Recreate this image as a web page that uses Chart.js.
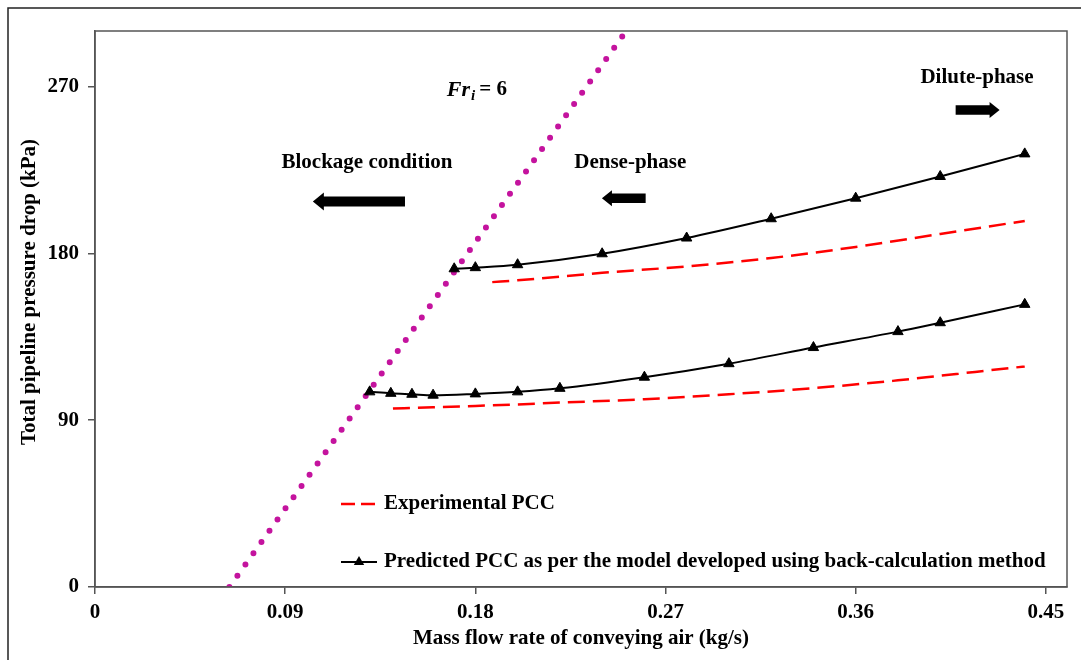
<!DOCTYPE html>
<html>
<head>
<meta charset="utf-8">
<script src="https://cdn.jsdelivr.net/npm/chart.js@4/dist/chart.umd.min.js"></script>
<style>
  html, body { margin: 0; padding: 0; background: #fff; }
  #wrap { width: 1081px; height: 660px; position: relative; }
</style>
</head>
<body>
<div id="wrap"><canvas id="c" width="1081" height="660"></canvas></div>
<script>
// Upper operating line
const upperPredX = [0.17, 0.18, 0.20, 0.24, 0.28, 0.32, 0.36, 0.40, 0.44];
const upperPredY = [171.7, 172.3, 173.9, 179.8, 188.3, 198.7, 209.8, 221.5, 233.7];
const upperExpX  = [0.188, 0.20, 0.24, 0.28, 0.32, 0.36, 0.40, 0.44];
const upperExpY  = [164.5, 165.5, 169.5, 173.0, 177.5, 183.5, 190.5, 197.5];

// Lower operating line
const lowerPredX = [0.13, 0.14, 0.15, 0.16, 0.18, 0.20, 0.22, 0.26, 0.30, 0.34, 0.38, 0.40, 0.44];
const lowerPredY = [105.3, 104.5, 104.0, 103.5, 104.2, 105.3, 107.2, 113.2, 120.5, 129.2, 137.8, 142.6, 152.5];
const lowerExpX  = [0.141, 0.16, 0.18, 0.20, 0.22, 0.26, 0.30, 0.34, 0.38, 0.40, 0.44];
const lowerExpY  = [96.3, 97.0, 97.7, 98.5, 99.5, 101.3, 104.0, 107.3, 111.5, 114.0, 119.0];

// Minimum-Froude-number boundary (Fr_i = 6)
const froudeX = [0.0636, 0.2514];
const froudeY = [0, 300];

// Axis ticks
const xTicks = [0, 0.09, 0.18, 0.27, 0.36, 0.45];
const yTicks = [0, 90, 180, 270];

// Region labels and arrows, in data units
const regionNotes = [
  { text: 'Blockage condition', x: 0.1287, y: 229.2 },
  { text: 'Dense-phase',        x: 0.2533, y: 229.0 },
  { text: 'Dilute-phase',       x: 0.4174, y: 275.0 }
];
const regionArrows = [
  { tail: 0.1467, head: 0.1031, y: 208.0 },
  { tail: 0.2606, head: 0.2399, y: 209.8 },
  { tail: 0.4073, head: 0.4281, y: 257.4 }
];
const froudeNote = { x: 0.1665, y: 268.2 };

const X_TITLE = 'Mass flow rate of conveying air (kg/s)';
const Y_TITLE = 'Total pipeline pressure drop (kPa)';

const FONT = 'Liberation Serif';
const RED = '#ff0000';
const MAGENTA = '#c4139e';
const AXIS = '#555555';

const pairs = (xs, ys) => xs.map((x, i) => ({ x, y: ys[i] }));

const expStyle = {
  borderColor: RED, borderWidth: 2.5, borderDash: [17, 8],
  pointRadius: 0, fill: false, cubicInterpolationMode: 'monotone'
};
const predStyle = {
  borderColor: '#000', backgroundColor: '#000', borderWidth: 2,
  pointStyle: 'triangle', pointRadius: 6, pointBackgroundColor: '#000',
  pointBorderColor: '#000', pointBorderWidth: 1,
  fill: false, cubicInterpolationMode: 'monotone'
};

const framePlugin = {
  id: 'frame',
  beforeDraw(chart) {
    const ctx = chart.ctx;
    ctx.save();
    ctx.fillStyle = '#fff';
    ctx.fillRect(0, 0, chart.width, chart.height);
    // outer chart border
    ctx.strokeStyle = '#222';
    ctx.lineWidth = 1.5;
    ctx.beginPath();
    ctx.moveTo(8, chart.height);
    ctx.lineTo(8, 8);
    ctx.lineTo(chart.width, 8);
    ctx.stroke();
    // vertical axis title
    ctx.fillStyle = '#000';
    ctx.font = `bold 21px "${FONT}"`;
    ctx.textAlign = 'center';
    ctx.textBaseline = 'middle';
    ctx.translate(30, 292);
    ctx.rotate(-Math.PI / 2);
    ctx.fillText(Y_TITLE, 0, 0);
    ctx.restore();
  },
  afterDatasetsDraw(chart) {
    const { ctx, chartArea: a } = chart;
    ctx.save();
    ctx.strokeStyle = AXIS;
    ctx.lineWidth = 1.5;
    ctx.strokeRect(a.left, a.top, a.right - a.left, a.bottom - a.top);
    ctx.restore();
  }
};

function drawArrow(ctx, x0, x1, y, shaft, headLen, headH) {
  const dir = Math.sign(x1 - x0);
  const base = x1 - dir * headLen;
  ctx.beginPath();
  ctx.moveTo(x0, y - shaft / 2);
  ctx.lineTo(base, y - shaft / 2);
  ctx.lineTo(base, y - headH / 2);
  ctx.lineTo(x1, y);
  ctx.lineTo(base, y + headH / 2);
  ctx.lineTo(base, y + shaft / 2);
  ctx.lineTo(x0, y + shaft / 2);
  ctx.closePath();
  ctx.fill();
}

const notesPlugin = {
  id: 'notes',
  afterDraw(chart) {
    const ctx = chart.ctx;
    const xs = chart.scales.x, ys = chart.scales.y;
    ctx.save();
    ctx.fillStyle = '#000';
    ctx.font = `bold 21px "${FONT}"`;
    ctx.textAlign = 'center';
    ctx.textBaseline = 'middle';
    regionNotes.forEach(n => ctx.fillText(n.text, xs.getPixelForValue(n.x), ys.getPixelForValue(n.y)));
    regionArrows.forEach((a, i) => {
      const small = i > 0;
      drawArrow(ctx, xs.getPixelForValue(a.tail), xs.getPixelForValue(a.head),
        ys.getPixelForValue(a.y), small ? 9.5 : 10, small ? 10 : 11, small ? 16 : 18);
    });
    // Fr_i = 6
    let fx = xs.getPixelForValue(froudeNote.x);
    const fy = ys.getPixelForValue(froudeNote.y);
    ctx.textAlign = 'left';
    ctx.font = `italic bold 22px "${FONT}"`;
    ctx.fillText('Fr', fx, fy);
    fx += ctx.measureText('Fr').width + 1;
    ctx.font = `italic bold 15px "${FONT}"`;
    ctx.fillText('i', fx, fy + 6);
    fx += ctx.measureText('i').width + 4;
    ctx.font = `bold 21px "${FONT}"`;
    ctx.fillText('= 6', fx, fy);

    // legend, inside the plot area
    const a = chart.chartArea;
    const lx0 = a.left + 246, lx1 = a.left + 282, tx = a.left + 289;
    const y1 = 504, y2 = 562;
    ctx.strokeStyle = RED;
    ctx.lineWidth = 2.5;
    ctx.setLineDash([14, 6]);
    ctx.beginPath(); ctx.moveTo(lx0, y1); ctx.lineTo(lx1, y1); ctx.stroke();
    ctx.setLineDash([]);
    ctx.strokeStyle = '#000';
    ctx.lineWidth = 2;
    ctx.beginPath(); ctx.moveTo(lx0, y2); ctx.lineTo(lx1, y2); ctx.stroke();
    const mx = (lx0 + lx1) / 2, r = 6;
    ctx.beginPath();
    ctx.moveTo(mx, y2 - r);
    ctx.lineTo(mx + r * 0.866, y2 + r / 2);
    ctx.lineTo(mx - r * 0.866, y2 + r / 2);
    ctx.closePath();
    ctx.fill();
    ctx.font = `bold 21px "${FONT}"`;
    ctx.textAlign = 'left';
    ctx.fillText(chart.data.datasets[0].label, tx, y1);
    ctx.fillText(chart.data.datasets[1].label, tx, y2);
    ctx.restore();
  }
};

new Chart(document.getElementById('c'), {
  type: 'scatter',
  data: {
    datasets: [
      { label: 'Experimental PCC', data: pairs(upperExpX, upperExpY), showLine: true, order: 2, ...expStyle },
      { label: 'Predicted PCC as per the model developed using back-calculation method',
        data: pairs(upperPredX, upperPredY), showLine: true, order: 1, ...predStyle },
      { label: 'Experimental PCC (lower)', data: pairs(lowerExpX, lowerExpY), showLine: true, order: 2, ...expStyle },
      { label: 'Predicted PCC (lower)', data: pairs(lowerPredX, lowerPredY), showLine: true, order: 1, ...predStyle },
      { label: 'Fr_i = 6', data: pairs(froudeX, froudeY), showLine: true, order: 10,
        borderColor: MAGENTA, borderWidth: 6, borderDash: [0, 13.8], borderCapStyle: 'round',
        pointRadius: 0, fill: false }
    ]
  },
  options: {
    responsive: false,
    animation: false,
    layout: { padding: { left: 0, right: 14, top: 31, bottom: 0 } },
    plugins: { legend: { display: false }, tooltip: { enabled: false } },
    scales: {
      x: {
        type: 'linear', min: 0, max: 0.46,
        afterBuildTicks: s => { s.ticks = xTicks.map(v => ({ value: v })); },
        afterFit: s => { s.height = 73; },
        grid: { drawOnChartArea: false, color: AXIS, tickLength: 7, lineWidth: 1.5 },
        border: { color: AXIS, width: 1.5 },
        ticks: { color: '#000', font: { family: FONT, size: 21, weight: 'bold' }, padding: 6,
                 maxRotation: 0, callback: v => String(v) },
        title: { display: true, text: X_TITLE, color: '#000',
                 font: { family: FONT, size: 21, weight: 'bold' }, padding: { top: 0, bottom: 9 } }
      },
      y: {
        type: 'linear', min: 0, max: 300,
        afterBuildTicks: s => { s.ticks = yTicks.map(v => ({ value: v })); },
        afterFit: s => { s.width = 95; },
        grid: { drawOnChartArea: false, color: AXIS, tickLength: 7, lineWidth: 1.5 },
        border: { color: AXIS, width: 1.5 },
        ticks: { color: '#000', font: { family: FONT, size: 21, weight: 'bold' }, padding: 9,
                 callback: v => String(v) },
        title: { display: false }
      }
    }
  },
  plugins: [framePlugin, notesPlugin]
});
</script>
</body>
</html>
